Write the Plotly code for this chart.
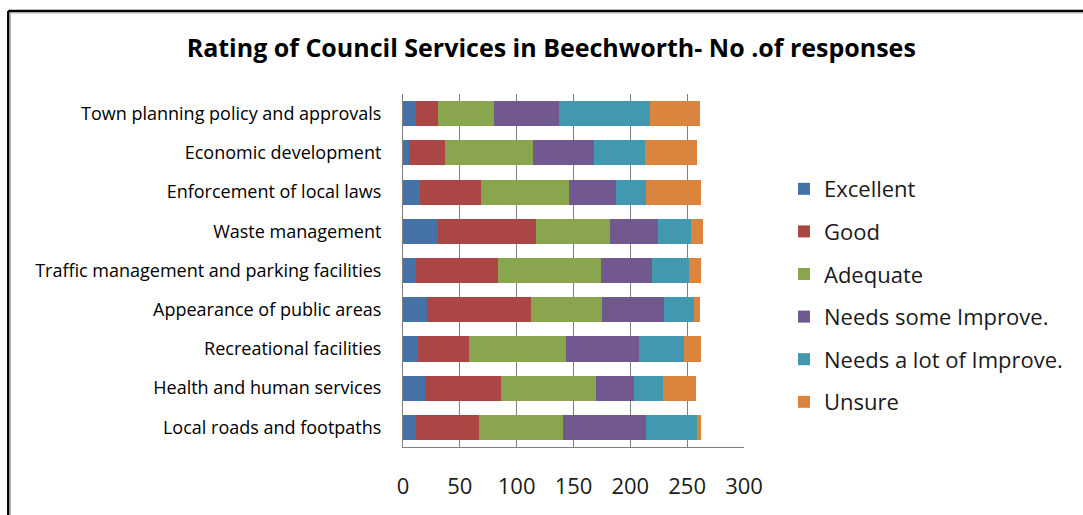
import plotly.graph_objects as go

categories = [
    "Town planning policy and approvals",
    "Economic development",
    "Enforcement of local laws",
    "Waste management",
    "Traffic management and parking facilities",
    "Appearance of public areas",
    "Recreational facilities",
    "Health and human services",
    "Local roads and footpaths",
]

series_names = ["Excellent", "Good", "Adequate", "Needs some Improve.",
                "Needs a lot of Improve.", "Unsure"]

excellent = [11, 5, 15, 31, 11, 21, 13, 19, 11]
good = [20, 32, 54, 86, 73, 92, 45, 67, 56]
adequate = [49, 77, 77, 65, 90, 62, 85, 84, 74]
needs_some = [57, 54, 41, 42, 45, 55, 65, 33, 73]
needs_lot = [80, 45, 27, 29, 33, 26, 39, 26, 45]
unsure = [44, 46, 48, 11, 10, 5, 15, 29, 3]

x_ticks = [0, 50, 100, 150, 200, 250, 300]

colors = ["#4572A7", "#AA4643", "#89A54E", "#71588F", "#4198AF", "#DB843D"]
series_values = [excellent, good, adequate, needs_some, needs_lot, unsure]

fig = go.Figure()
for name, vals, col in zip(series_names, series_values, colors):
    fig.add_trace(go.Bar(
        y=categories, x=vals, name=name, orientation="h",
        marker=dict(color=col, line=dict(width=0)),
        legendgroup=name,
    ))

W, H = 1083, 515
L, R, T, B = 403, 339, 94, 68
pw, ph = W - L - R, H - T - B

def px_x(p):
    return (p - L) / pw

def px_y(p):
    return (H - B - p) / ph

shapes = [
    # outer frame (black) top and left
    dict(type="line", xref="paper", yref="paper", x0=px_x(8.3), x1=px_x(1100),
         y0=px_y(11), y1=px_y(11), line=dict(color="#000000", width=2.5)),
    dict(type="line", xref="paper", yref="paper", x0=px_x(8.3), x1=px_x(8.3),
         y0=px_y(11), y1=px_y(530), line=dict(color="#000000", width=2.5)),
    # inner gray shadow
    dict(type="line", xref="paper", yref="paper", x0=px_x(10), x1=px_x(1100),
         y0=px_y(12.8), y1=px_y(12.8), line=dict(color="#b0b0b0", width=1.5)),
    dict(type="line", xref="paper", yref="paper", x0=px_x(10.2), x1=px_x(10.2),
         y0=px_y(12.8), y1=px_y(530), line=dict(color="#b0b0b0", width=1.5)),
]

fig.update_layout(
    width=W, height=H,
    barmode="stack",
    bargap=0.36,
    paper_bgcolor="white", plot_bgcolor="white",
    margin=dict(l=L, r=R, t=T, b=B, pad=0),
    font=dict(family="Open Sans", color="#000000"),
    title=dict(
        text="<b>Rating of Council Services in Beechworth- No .of responses</b>",
        x=0.509, xanchor="center", xref="container",
        y=1 - 48 / H, yanchor="middle", yref="container",
        font=dict(family="Open Sans", size=25, color="#000000"),
    ),
    xaxis=dict(
        range=[0, 300], tickvals=x_ticks, ticktext=[str(t) for t in x_ticks],
        showgrid=True, gridcolor="#7f7f7f", gridwidth=1,
        zeroline=False, showline=True, linecolor="#7f7f7f", linewidth=1,
        ticks="", ticklabelstandoff=20,
        tickfont=dict(family="Open Sans", size=22, color="#1a1a1a"),
        fixedrange=True,
    ),
    yaxis=dict(
        categoryorder="array", categoryarray=categories,
        autorange="reversed",
        showgrid=False, zeroline=False, showline=True,
        linecolor="#7f7f7f", linewidth=1, ticks="",
        ticklabelstandoff=17,
        tickfont=dict(family="Open Sans", size=18, color="#000000"),
        fixedrange=True,
    ),
    legend=dict(
        x=px_x(784), xanchor="left",
        y=px_y(295.5), yanchor="middle",
        traceorder="grouped", tracegroupgap=11,
        font=dict(family="Open Sans", size=22, color="#1a1a1a"),
        bgcolor="rgba(0,0,0,0)", borderwidth=0,
    ),
    shapes=shapes,
    showlegend=True,
)

fig.write_html("out.html", config={"displayModeBar": False},
               post_script="document.body.style.margin='0';document.body.style.padding='0';")
